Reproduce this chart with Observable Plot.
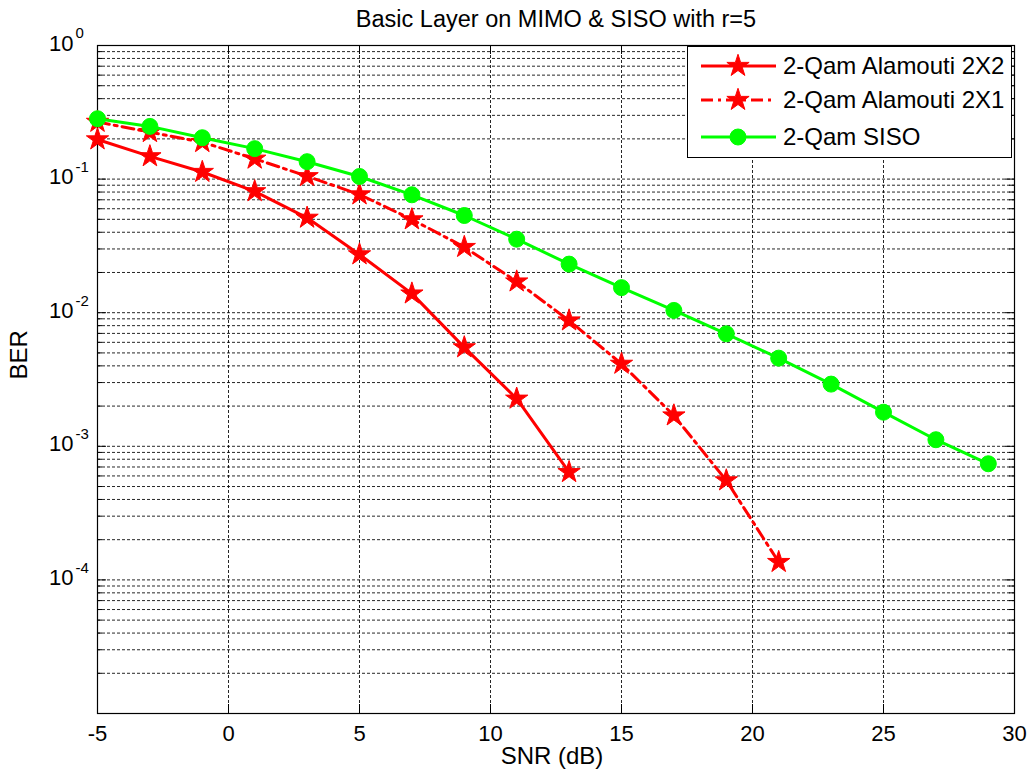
<!DOCTYPE html>
<html><head><meta charset="utf-8">
<script src="https://cdn.jsdelivr.net/npm/d3@7"></script>
<script src="https://cdn.jsdelivr.net/npm/@observablehq/plot@0.6"></script>
<style>
body{margin:0;background:#fff;font-family:"Liberation Sans",Arial,Helvetica,sans-serif;}
#wrap{position:relative;width:1031px;height:780px;}
#legend{position:absolute;left:687px;top:46px;width:325px;height:112px;border:1px solid #000;background:#fff;box-sizing:border-box;}
#legend svg{display:block;}
</style></head><body><div id="wrap"></div>
<script>
// ---- data ----
const snr2x2 = [-5,-3,-1,1,3,5,7,9,11,13];
const ber2x2 = [0.198,0.148,0.113,0.081,0.0513,0.0273,0.0139,0.0055,0.00227,0.00064];
const snr2x1 = [-5,-3,-1,1,3,5,7,9,11,13,15,17,19,21];
const ber2x1 = [0.268,0.2245,0.189,0.142,0.105,0.0767,0.0499,0.031,0.0171,0.00874,0.00414,0.0017,0.000555,0.000136];
const snrSISO = [-5,-3,-1,1,3,5,7,9,11,13,15,17,19,21,23,25,27,29];
const berSISO = [0.283,0.248,0.204,0.169,0.135,0.1046,0.0763,0.0534,0.0355,0.0231,0.0154,0.0104,0.00695,0.00457,0.00292,0.0018,0.00112,0.00074];
const seriesNames = ["2-Qam Alamouti 2X2","2-Qam Alamouti 2X1","2-Qam SISO"];
const xTicks = [-5,0,5,10,15,20,25,30];
const decadeExps = [-5,-4,-3,-2,-1,0];
const labelledExps = [-4,-3,-2,-1,0];
const mantissas = [1,2,3,4,5,6,7,8,9];
const titleText = "Basic Layer on MIMO & SISO with r=5";
const xLabel = "SNR (dB)";
const yLabel = "BER";

// ---- derived tables ----
const d2x2 = snr2x2.map((s,i)=>({snr:s, ber:ber2x2[i]}));
const d2x1 = snr2x1.map((s,i)=>({snr:s, ber:ber2x1[i]}));
const dSISO = snrSISO.map((s,i)=>({snr:s, ber:berSISO[i]}));
const yMajor = decadeExps.map(e=>Math.pow(10,e));
const yLabelled = labelledExps.map(e=>Math.pow(10,e));
const yMinor = [];
decadeExps.slice(0,-1).forEach(e=>mantissas.slice(1).forEach(m=>yMinor.push(m*Math.pow(10,e))));
const yAll = yMajor.concat(yMinor);

const W=1031,H=780,ML=97,MR=17,MT=45,MB=67;
const PW=W-ML-MR, PH=H-MT-MB;
const FONT='"Liberation Sans",Arial,Helvetica,sans-serif';
const RED="#ff0000", GREEN="#00ff00";
const grid={stroke:"#000", strokeOpacity:0.85, strokeWidth:1, strokeDasharray:"3,2"};

const chart = Plot.plot({
  width:W, height:H, marginLeft:ML, marginRight:MR, marginTop:MT, marginBottom:MB,
  style:{fontFamily:FONT, background:"#fff", color:"#000"},
  x:{domain:[-5,30], axis:null},
  y:{type:"log", domain:[1e-5,1], axis:null},
  marks:[
    Plot.ruleY(yAll, grid),
    Plot.ruleX(xTicks, grid),
    // inward tick marks
    Plot.ruleY(yMajor, {stroke:"#000", strokeWidth:1, insetRight:PW-9}),
    Plot.ruleY(yMajor, {stroke:"#000", strokeWidth:1, insetLeft:PW-9}),
    Plot.ruleY(yMinor, {stroke:"#000", strokeWidth:1, insetRight:PW-5}),
    Plot.ruleY(yMinor, {stroke:"#000", strokeWidth:1, insetLeft:PW-5}),
    Plot.ruleX(xTicks, {stroke:"#000", strokeWidth:1, insetBottom:PH-9}),
    Plot.ruleX(xTicks, {stroke:"#000", strokeWidth:1, insetTop:PH-9}),
    Plot.frame({stroke:"#000", strokeWidth:1.2}),
    // series
    Plot.line(d2x2, {x:"snr", y:"ber", stroke:RED, strokeWidth:3}),
    Plot.dot(d2x2, {x:"snr", y:"ber", symbol:"star", r:7, fill:RED, stroke:RED, strokeWidth:1}),
    Plot.line(d2x1, {x:"snr", y:"ber", stroke:RED, strokeWidth:3, strokeDasharray:"12,5,3,5"}),
    Plot.dot(d2x1, {x:"snr", y:"ber", symbol:"star", r:7, fill:RED, stroke:RED, strokeWidth:1}),
    Plot.line(dSISO, {x:"snr", y:"ber", stroke:GREEN, strokeWidth:3}),
    Plot.dot(dSISO, {x:"snr", y:"ber", r:8, fill:GREEN, stroke:GREEN, strokeWidth:1}),
    // tick labels
    Plot.text(xTicks, {x:d=>d, frameAnchor:"bottom", lineAnchor:"middle", dy:20, text:d=>String(d), fontSize:22, fill:"#000"}),
    Plot.text(yLabelled, {y:d=>d, frameAnchor:"left", lineAnchor:"middle", dx:-24, dy:-2, textAnchor:"end", text:()=>"10", fontSize:22, fill:"#000"}),
    Plot.text(yLabelled, {y:d=>d, frameAnchor:"left", lineAnchor:"middle", dx:-22, dy:-12, textAnchor:"start", text:d=>String(Math.round(Math.log10(d))), fontSize:15, fill:"#000"}),
    // titles
    Plot.text([titleText], {frameAnchor:"top", lineAnchor:"middle", dy:-26, text:d=>d, fontSize:23.5, fill:"#000"}),
    Plot.text([xLabel], {frameAnchor:"bottom", lineAnchor:"middle", dx:-4, dy:43, text:d=>d, fontSize:24, fill:"#000"}),
    Plot.text([yLabel], {frameAnchor:"left", lineAnchor:"middle", dx:-78, rotate:-90, text:d=>d, fontSize:24, fill:"#000"})
  ]
});
const wrap=document.getElementById("wrap");
wrap.appendChild(chart);

// ---- legend ----
const leg=document.createElement("div");
leg.id="legend";
wrap.appendChild(leg);
const svg=d3.select(leg).append("svg").attr("width",323).attr("height",110);
const legRows=[
  {name:seriesNames[0], color:RED, dash:null, sym:"star"},
  {name:seriesNames[1], color:RED, dash:"12,5,3,5", sym:"star"},
  {name:seriesNames[2], color:GREEN, dash:null, sym:"circle"}
];
const rowY=[19,53,90];
legRows.forEach((r,i)=>{
  const g=svg.append("g").attr("transform",`translate(0,${rowY[i]})`);
  g.append("line").attr("x1",13).attr("x2",88).attr("y1",0).attr("y2",0)
    .attr("stroke",r.color).attr("stroke-width",3).attr("stroke-dasharray",r.dash);
  const sym = r.sym==="star" ? d3.symbolStar : d3.symbolCircle;
  const rr = r.sym==="star" ? 7 : 8;
  g.append("path").attr("d",d3.symbol(sym, Math.PI*rr*rr)()).attr("transform","translate(50,0)")
    .attr("fill",r.color).attr("stroke",r.color);
  g.append("text").attr("x",95).attr("y",0).attr("dy","0.35em").attr("font-size",24)
    .attr("font-family",FONT).text(r.name);
});
</script>
</body></html>
